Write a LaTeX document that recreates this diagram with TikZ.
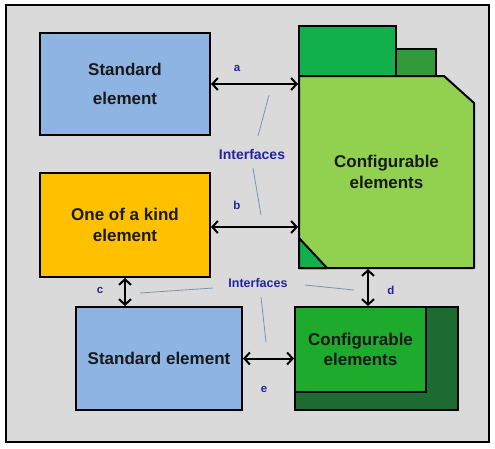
\documentclass[tikz,border=0pt]{standalone}
\usepackage{fontspec}
\setmainfont{Liberation Sans}
\usetikzlibrary{arrows.meta}
\definecolor{framegray}{HTML}{DADADA}
\definecolor{stdblue}{HTML}{8EB4E3}
\definecolor{kindorange}{HTML}{FFC000}
\definecolor{cfglight}{HTML}{92D050}
\definecolor{tabgreen}{HTML}{12B04C}
\definecolor{tabdark}{HTML}{339A3A}
\definecolor{cfgmid}{HTML}{1EAA2C}
\definecolor{cfgdark}{HTML}{1D6B32}
\definecolor{ifblue}{HTML}{24249A}
\definecolor{ifline}{HTML}{7594BA}
\begin{document}
\begin{tikzpicture}[x=1pt,y=-1pt,
    box/.style={draw=black, line width=2pt, inner sep=0pt, align=center, text=black!90,
        font=\fontsize{17}{20.5}\selectfont\bfseries},
    link/.style={line width=2pt, {Straight Barb[length=5.5pt,width=12pt]}-{Straight Barb[length=5.5pt,width=12pt]}},
    lbl/.style={text=ifblue, font=\fontsize{11.5}{13}\selectfont\bfseries},
    iflbl/.style={text=ifblue, font=\fontsize{13.5}{15}\selectfont\bfseries},
    ifwire/.style={draw=ifline, line width=0.8pt}]
    \useasboundingbox (0,0) rectangle (495,448);

    % Frame
    \draw[fill=framegray, line width=1.8pt] (6,5) rectangle (489,442);

    % Left column
    \node[box, fill=stdblue, minimum width=170pt, minimum height=102pt] (std) at (125,84)
        {Standard\\[8pt]element};
    \node[box, fill=kindorange, minimum width=170pt, minimum height=104pt] (kind) at (125,225)
        {One of a kind\\element};
    \node[box, fill=stdblue, minimum width=166pt, minimum height=103pt] (stdb) at (159,358.5)
        {Standard element};

    % Configurable elements, top right
    \draw[fill=tabgreen, line width=2pt] (299,26) rectangle (396,76);
    \draw[fill=tabdark, line width=2pt] (396,49) rectangle (436,76);
    \draw[fill=cfglight, line width=2pt, line join=round]
        (299,76) -- (444,76) -- (474,103) -- (474,268) -- (299,268) -- cycle;
    \draw[fill=tabgreen, line width=2pt, line join=round] (299,238) -- (327,268) -- (299,268) -- cycle;
    \node[box, draw=none, minimum width=175pt, minimum height=192pt] (cfg) at (386.5,172)
        {Configurable\\elements};

    % Configurable elements, bottom right
    \node[box, fill=cfgdark, minimum width=163pt, minimum height=103pt] (cfgb) at (376.5,358.5) {};
    \node[box, fill=cfgmid, minimum width=131pt, minimum height=85pt, anchor=north west] (cfgi)
        at (cfgb.north west) {Configurable\\elements};

    % Interfaces
    \draw[link] (std.east) -- (std.east -| cfg.west);
    \draw[link] ([yshift=-2pt]kind.east) -- ([yshift=-2pt]kind.east -| cfg.west);
    \draw[link] (kind.south) -- (kind.south |- stdb.north);
    \draw[link] ([xshift=-18.5pt]cfg.south) -- ([xshift=-18.5pt]cfg.south |- cfgb.north);
    \draw[link] (stdb.east) -- (cfgb.west);

    \node[lbl] (la) at (237,68) {a};
    \node[lbl] (lb) at (237,205) {b};
    \node[lbl] (lc) at (100,290) {c};
    \node[lbl] (ld) at (391,290) {d};
    \node[lbl] (le) at (264,389) {e};

    \node[iflbl, font=\fontsize{14}{16}\selectfont\bfseries] (ift) at (252,154) {Interfaces};
    \node[iflbl, font=\fontsize{12.5}{15}\selectfont\bfseries] (ifb) at (258,283) {Interfaces};
    \draw[ifwire] (269,95) -- (258,136);
    \draw[ifwire] (253,168) -- (261,215);
    \draw[ifwire] (140,293) -- (213,288);
    \draw[ifwire] (305,285) -- (354,290);
    \draw[ifwire] (261,297) -- (266,342);
\end{tikzpicture}
\end{document}
